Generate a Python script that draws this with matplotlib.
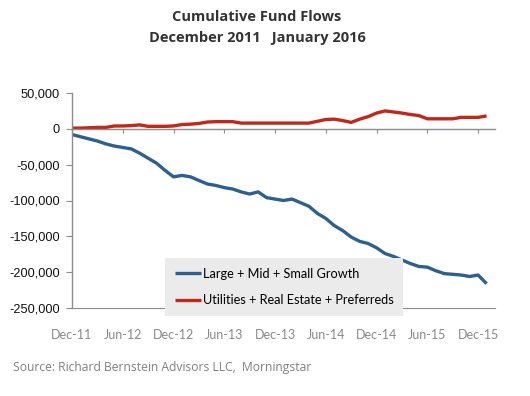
import numpy as np
import matplotlib
matplotlib.use('Agg')
from matplotlib import pyplot as plt
from matplotlib.ticker import FuncFormatter

# cumulative flows, in thousands, monthly Dec-11 .. Jan-16
growth = [-8, -11, -14, -17, -21, -24, -26, -28, -34, -41,
          -48, -58, -67, -65, -67, -72, -77, -79, -82, -84,
          -88, -91, -88, -96, -98, -100, -98, -103, -108, -118,
          -125, -135, -142, -151, -157, -160, -166, -174, -178, -183,
          -188, -192, -193, -198, -202, -203, -204, -206, -204, -216]
income = [1, 1, 1.5, 2, 2, 4, 4, 4.5, 5.5, 3.5,
          3.5, 3.5, 4, 6, 6.5, 7.5, 9.5, 10, 10, 10,
          8, 8, 8, 8, 8, 8, 8, 8, 8, 10.5,
          13, 13.5, 11.5, 9, 13.5, 17, 22, 25, 23.5, 22,
          20, 18.5, 14, 14, 14, 14, 16, 16, 16, 18]
tick_labels = ['Dec-11', 'Jun-12', 'Dec-12', 'Jun-13', 'Dec-13',
               'Jun-14', 'Dec-14', 'Jun-15', 'Dec-15']
series_names = ['Large + Mid + Small Growth', 'Utilities + Real Estate + Preferreds']

blue = '#2f5f8c'
red = '#c0281c'
grey = '#8c8c8c'

months = np.arange(len(growth))
growth = np.array(growth) * 1000
income = np.array(income) * 1000

fig = plt.figure(figsize=(5.3, 3.96), dpi=100)
ax = fig.add_axes([72 / 530, 88 / 396, 423 / 530, 215 / 396])

ax.plot(months, growth, color=blue, lw=2.4, solid_capstyle='butt', label=series_names[0])
ax.plot(months, income, color=red, lw=2.4, solid_capstyle='butt', label=series_names[1])

ax.set_xlim(0, 50)
ax.set_ylim(-250000, 50000)
ax.set_yticks(np.arange(-250000, 50001, 50000))
ax.yaxis.set_major_formatter(FuncFormatter(lambda v, p: f'{int(v):,}'))

# category axis crosses at zero, labels sit low
ax.spines['bottom'].set_position(('data', 0))
ax.spines[['top', 'right']].set_visible(False)
for s in ['bottom', 'left']:
    ax.spines[s].set_color(grey)
    ax.spines[s].set_linewidth(1)
ax.set_xticks(months[::6][:len(tick_labels)])
ax.tick_params(axis='x', length=3, color=grey, labelbottom=False)
ax.tick_params(axis='y', length=4, color=grey, pad=5, labelsize=9.2, labelcolor='#111111')
for t in ax.get_yticklabels():
    t.set_fontfamily('Liberation Sans')

sec = ax.secondary_xaxis(0.0)
sec.set_xticks(months[::6][:len(tick_labels)], tick_labels)
sec.spines['bottom'].set_color(grey)
sec.tick_params(length=0, pad=15, labelsize=9, labelcolor='#8a8a8a')
for t in sec.get_xticklabels():
    t.set_fontfamily('Lato')

title_font = ['Open Sans', 'DejaVu Sans']
fig.text(0.485, 0.957, 'Cumulative Fund Flows', ha='center', va='center',
         fontsize=10.5, fontweight='bold', color='#333333', family=title_font)
fig.text(0.485, 0.903, 'December 2011   January 2016', ha='center', va='center',
         fontsize=10.5, fontweight='bold', color='#333333', family=title_font)

leg = ax.legend(loc='upper left', bbox_to_anchor=(165 / 530, 1 - 258 / 396),
                bbox_transform=fig.transFigure, frameon=True, fancybox=False,
                facecolor='#ebebeb', edgecolor='none', framealpha=1,
                prop={'family': 'Lato', 'size': 9.2}, handlelength=2.1,
                handletextpad=0.1, labelspacing=1.15, borderpad=0.75, borderaxespad=0)
leg.set_zorder(5)

fig.text(13 / 530, 1 - 368 / 396, 'Source: Richard Bernstein Advisors LLC,  Morningstar',
         ha='left', va='center', fontsize=8.7, color='#808080', family='Open Sans')

fig.savefig('out.png', dpi=100)
